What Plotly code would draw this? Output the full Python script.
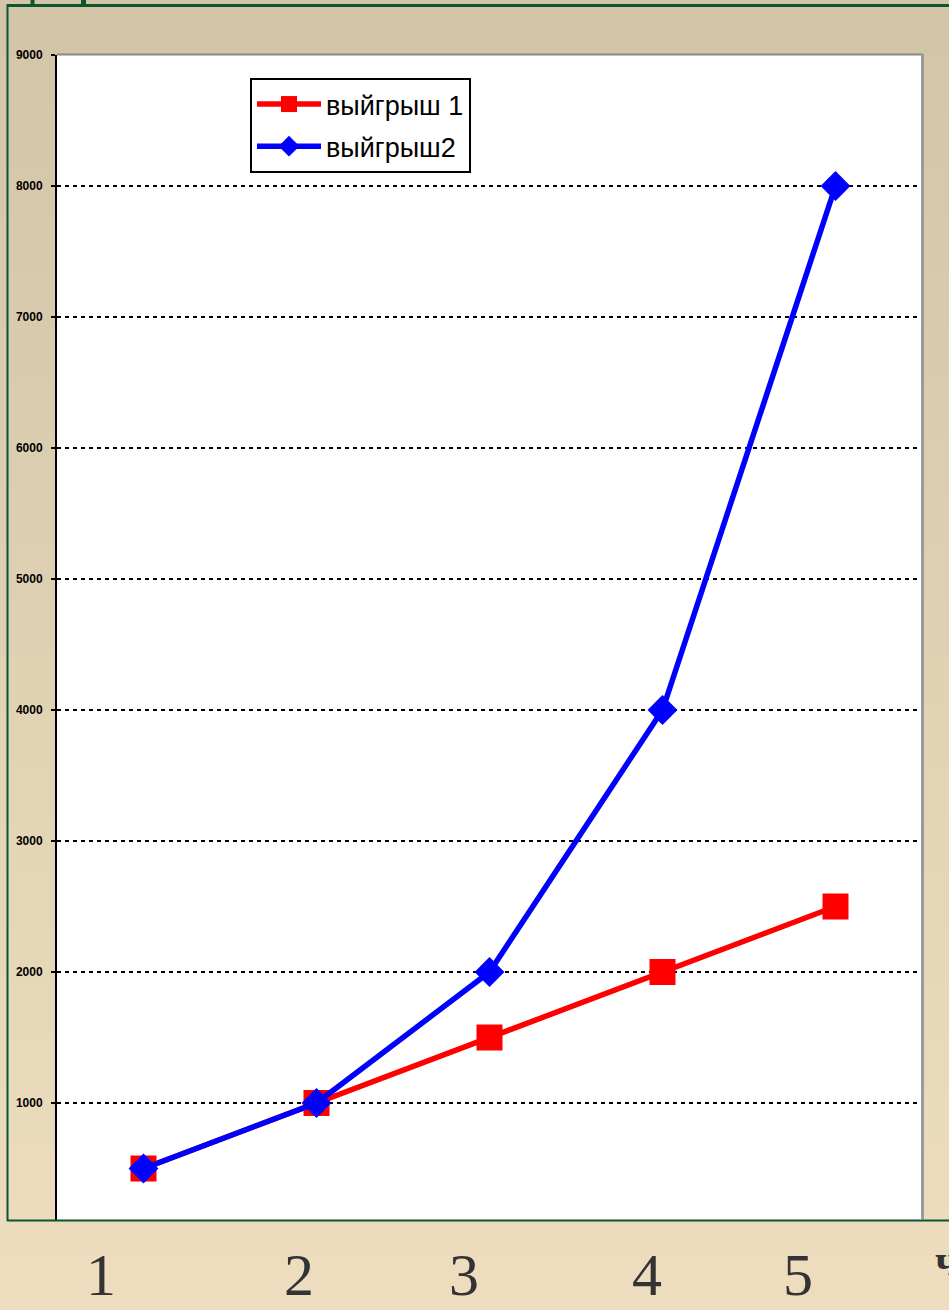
import plotly.graph_objects as go

# Series data
rounds = [1, 2, 3, 4, 5]
win1 = [500, 1000, 1500, 2000, 2500]
win2 = [500, 1000, 2000, 4000, 8000]
series_names = ["выйгрыш 1", "выйгрыш2"]
bottom_labels = ["1", "2", "3", "4", "5"]
corner_label = "ч"

W, H = 949, 1310
L, R, T, B = 57, 922, 55, 1220   # plot area in pixels


def px(x):
    return (x - L) / (R - L)


def py(y):
    return (B - y) / (B - T)


fig = go.Figure()
fig.add_trace(go.Scatter(
    x=rounds, y=win1, name=series_names[0], mode="lines+markers", legendgroup="a",
    line=dict(color="#ff0000", width=5.5),
    marker=dict(symbol="square", size=26, color="#ff0000"),
))
fig.add_trace(go.Scatter(
    x=rounds, y=win2, name=series_names[1], mode="lines+markers", legendgroup="b",
    line=dict(color="#0000ff", width=5.5),
    marker=dict(symbol="diamond", size=23, color="#0000ff"),
))

shapes = []
# beige page background with a soft vertical gradient
top_rgb = (0xd2, 0xc5, 0xa8)
bot_rgb = (0xed, 0xdd, 0xbe)
n = 24
for i in range(n):
    t = i / (n - 1)
    c = tuple(round(a + (b - a) * t) for a, b in zip(top_rgb, bot_rgb))
    y0 = H * i / n
    y1 = H * (i + 1) / n + 1
    shapes.append(dict(type="rect", xref="paper", yref="paper", layer="below",
                       x0=px(0), x1=px(W), y0=py(y1), y1=py(y0),
                       line=dict(width=0), fillcolor="rgb(%d,%d,%d)" % c))
# white plot area
shapes.append(dict(type="rect", xref="paper", yref="paper", layer="below",
                   x0=0, x1=1, y0=0, y1=1, line=dict(width=0), fillcolor="white"))
# dark green frame
green = "#0b5530"
shapes.append(dict(type="line", xref="paper", yref="paper", layer="above",
                   x0=px(7), x1=px(W + 5), y0=py(5.5), y1=py(5.5),
                   line=dict(color=green, width=3)))
shapes.append(dict(type="line", xref="paper", yref="paper", layer="above",
                   x0=px(7.5), x1=px(7.5), y0=py(4), y1=py(1221),
                   line=dict(color=green, width=2)))
shapes.append(dict(type="line", xref="paper", yref="paper", layer="above",
                   x0=px(7), x1=px(W + 5), y0=py(1220.5), y1=py(1220.5),
                   line=dict(color=green, width=2)))
# heading fragments above the frame
for x0, x1 in [(30.5, 34.5), (81, 86)]:
    shapes.append(dict(type="rect", xref="paper", yref="paper", layer="above",
                       x0=px(x0), x1=px(x1), y0=py(6), y1=py(-2),
                       line=dict(width=0), fillcolor=green))
# grey top and right edges of the plot area
shapes.append(dict(type="line", xref="paper", yref="paper", layer="above",
                   x0=px(57), x1=px(923), y0=py(54.5), y1=py(54.5),
                   line=dict(color="#8a8a8a", width=2)))
shapes.append(dict(type="line", xref="paper", yref="paper", layer="above",
                   x0=px(922.5), x1=px(922.5), y0=py(54), y1=py(1219),
                   line=dict(color="#9a9a9a", width=3)))

annotations = []
label_x = [101, 299, 464, 647, 798]
for lab, xc in zip(bottom_labels, label_x):
    annotations.append(dict(text=lab, xref="paper", yref="paper",
                            x=px(xc), y=py(1275), xanchor="center", yanchor="middle",
                            showarrow=False,
                            font=dict(family="Liberation Serif", size=60, color="#333333")))
annotations.append(dict(text="<b>%s</b>" % corner_label, xref="paper", yref="paper",
                        x=px(933), y=py(1260), xanchor="left", yanchor="middle",
                        showarrow=False,
                        font=dict(family="Liberation Serif", size=44, color="#333333")))

fig.update_layout(
    width=W, height=H,
    margin=dict(l=L, r=W - R, t=T, b=H - B, pad=0),
    paper_bgcolor="#ddd0b3",
    plot_bgcolor="white",
    showlegend=True,
    legend=dict(x=px(250), y=py(78), xanchor="left", yanchor="top",
                bgcolor="white", bordercolor="black", borderwidth=2,
                font=dict(family="Liberation Sans", size=27, color="black"),
                itemwidth=64, tracegroupgap=4),
    shapes=shapes,
    annotations=annotations,
    hovermode=False,
)
fig.update_xaxes(range=[0.5, 5.5], showgrid=False, zeroline=False,
                 showticklabels=False, ticks="", showline=False)
fig.update_yaxes(range=[107, 9000], tick0=0, dtick=1000,
                 showgrid=True, gridcolor="black", gridwidth=2, griddash="4px,4px",
                 zeroline=False, showline=True, linecolor="black", linewidth=2,
                 ticks="outside", ticklen=4, tickcolor="black", tickwidth=2,
                 ticklabelstandoff=6,
                 tickfont=dict(family="Liberation Sans", size=12, color="black", weight="bold"))

fig.write_html("out.html")
